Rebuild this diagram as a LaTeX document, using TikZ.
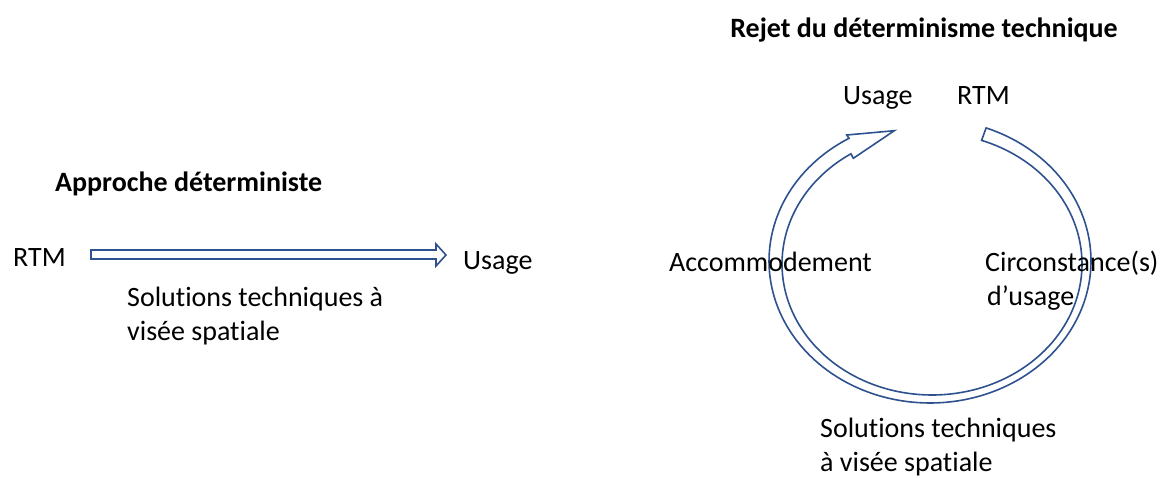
\documentclass[tikz,border=0pt]{standalone}
\usepackage{fontspec}
\setmainfont{Carlito}[Ligatures=NoCommon]
\definecolor{arrowblue}{RGB}{47,82,143}
\tikzset{
  lbl/.style={inner sep=0pt, font=\fontsize{28}{34}\selectfont, text=black},
  ttl/.style={lbl, font=\fontsize{28}{34}\selectfont\bfseries},
  hollow/.style={draw=arrowblue, line width=1.6pt, fill=white, line join=miter}
}
\begin{document}
\begin{tikzpicture}[x=1pt,y=-1pt]
\useasboundingbox (0,0) rectangle (1164,477);
% left part
\node[ttl, anchor=base west] (t1) at (55,191) {Approche déterministe};
\node[lbl, anchor=base west] (rtm1) at (13,266) {RTM};
\node[lbl, anchor=base west] (us1) at (463,269) {Usage};
\node[lbl, anchor=base west] (sol1a) at (127,306) {Solutions techniques à};
\node[lbl, anchor=base west] (sol1b) at (127,340) {visée spatiale};
\draw[hollow] (91,250) -- (436,250) -- (436,244) -- (446,255) -- (436,266) -- (436,259) -- (91,259) -- cycle;
% right part
\node[ttl, anchor=base east] (t2) at (1118,37) {Rejet du déterminisme technique};
\node[lbl, anchor=base west] (us2) at (843,104) {Usage};
\node[lbl, anchor=base west] (rtm2) at (957,104) {RTM};
\draw[hollow]
  plot[domain=-69.6:239.8,samples=150] ({930+161*cos(\x)},{261+142*sin(\x)})
  -- (846.7,135) -- (894.3,130.7) -- (853.3,158.3)
  -- plot[domain=-237.3:70.7,samples=150] ({932+150*cos(-\x)},{264+131*sin(-\x)})
  -- cycle;
\node[lbl, anchor=base east] (acc) at (872,271) {Accommodement};
\node[lbl, anchor=base west] (circ) at (985,271) {Circonstance(s)};
\node[lbl, anchor=base west] (dus) at (987,305) {d’usage};
\node[lbl, anchor=base west] (sol2a) at (820,437) {Solutions techniques};
\node[lbl, anchor=base west] (sol2b) at (820,471) {à visée spatiale};
\end{tikzpicture}
\end{document}
